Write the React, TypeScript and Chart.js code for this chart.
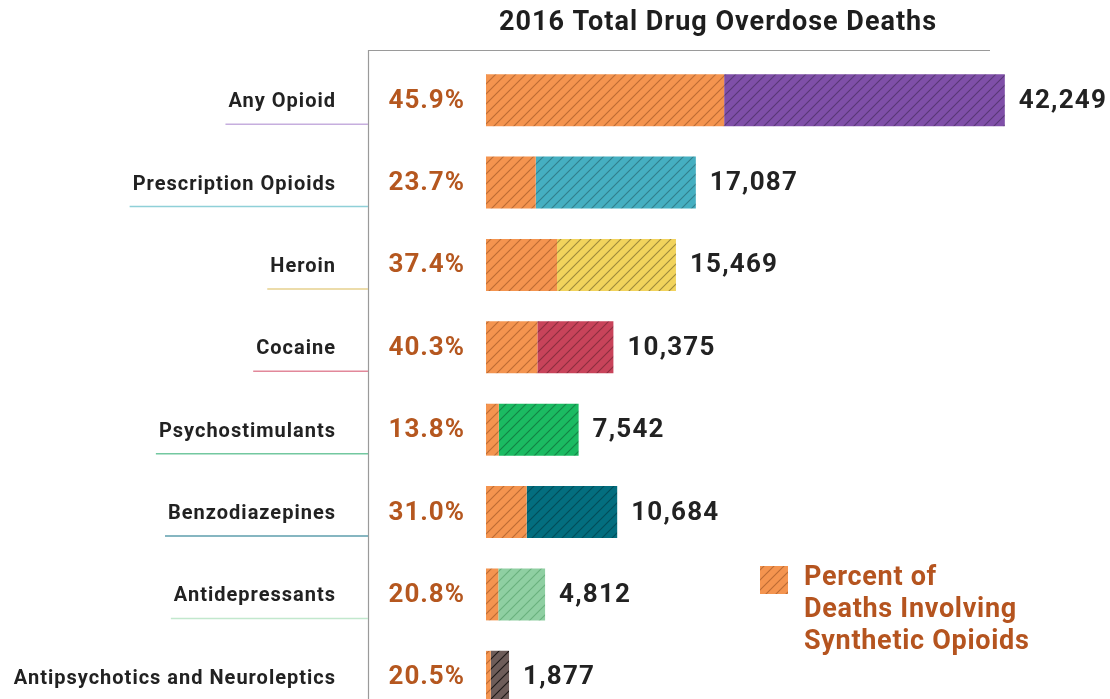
import React, { useEffect, useRef } from "react";
import { Chart, registerables } from "chart.js";

Chart.register(...registerables);

const title = "2016 Total Drug Overdose Deaths";
const categories = [
  "Any Opioid",
  "Prescription Opioids",
  "Heroin",
  "Cocaine",
  "Psychostimulants",
  "Benzodiazepines",
  "Antidepressants",
  "Antipsychotics and Neuroleptics",
];
const totals = [42249, 17087, 15469, 10375, 7542, 10684, 4812, 1877];
const synthPct = [45.9, 23.7, 37.4, 40.3, 13.8, 31.0, 20.8, 20.5];
const barColors = ["#7f4fa8", "#45afc1", "#f2d35c", "#c8435a", "#1bbb62", "#036e7f", "#8fcfa2", "#6d5c59"];
const hatchColors = [
  "rgba(0,0,0,0.3)",
  "rgba(0,0,0,0.28)",
  "rgba(0,0,0,0.35)",
  "rgba(0,0,0,0.3)",
  "rgba(0,0,0,0.3)",
  "rgba(0,0,0,0.3)",
  "rgba(60,140,80,0.45)",
  "rgba(0,0,0,0.75)",
];
const underlineColors = ["#c6aede", "#8fd0d8", "#e6d08e", "#e2889a", "#73c8a0", "#5e9ead", "#c2e8cd", "#ffffff"];
const synthColor = "#f4944f";
const legendLines = ["Percent of", "Deaths Involving", "Synthetic Opioids"];

const W = 1110;
const H = 740;
const FONT = "Roboto, 'Noto Sans', sans-serif";

function hatch(color: string, line: string): CanvasPattern | string {
  const c = document.createElement("canvas");
  const s = 10;
  c.width = s;
  c.height = s;
  const g = c.getContext("2d");
  if (!g) return color;
  g.fillStyle = color;
  g.fillRect(0, 0, s, s);
  g.strokeStyle = line;
  g.lineWidth = 1.1;
  g.beginPath();
  g.moveTo(-1, s + 1);
  g.lineTo(s + 1, -1);
  g.moveTo(-s / 2 - 1, s / 2 + 1);
  g.lineTo(s / 2 + 1, -s / 2 - 1);
  g.moveTo(s / 2 - 1, s * 1.5 + 1);
  g.lineTo(s * 1.5 + 1, s / 2 - 1);
  g.stroke();
  return g.createPattern(c, "repeat") || color;
}

const fmt = (v: number) => v.toLocaleString("en-US");

function setFont(ctx: any, size: number, spacing: number) {
  ctx.font = `bold ${size}px ${FONT}`;
  try {
    ctx.letterSpacing = `${spacing}px`;
  } catch (e) {
    /* ignore */
  }
}

export default function App() {
  const ref = useRef<HTMLCanvasElement | null>(null);

  useEffect(() => {
    const canvas = ref.current;
    if (!canvas) return;
    const synth = totals.map((t, i) => (t * synthPct[i]) / 100);
    const rest = totals.map((t, i) => t - synth[i]);
    const synthPattern = hatch(synthColor, "rgba(120,60,20,0.45)");
    const restPatterns = barColors.map((c, i) => hatch(c, hatchColors[i]));

    const overlay = {
      id: "overlay",
      beforeDatasetsDraw(chart: any) {
        const ctx = chart.ctx;
        ctx.save();
        ctx.strokeStyle = "#9a9a9a";
        ctx.lineWidth = 1.2;
        ctx.beginPath();
        ctx.moveTo(368.5, 50);
        ctx.lineTo(368.5, H);
        ctx.moveTo(368, 50.5);
        ctx.lineTo(990, 50.5);
        ctx.stroke();
        ctx.restore();
      },
      afterDraw(chart: any) {
        const ctx = chart.ctx;
        const xs = chart.scales.x;
        const ys = chart.scales.y;
        ctx.save();
        // title
        ctx.fillStyle = "#1e1e1e";
        setFont(ctx, 27, 1);
        ctx.textAlign = "center";
        ctx.textBaseline = "middle";
        ctx.fillText(title, 718, 23);

        categories.forEach((cat, i) => {
          const y = ys.getPixelForValue(i);
          // left label
          setFont(ctx, 20, 1);
          ctx.fillStyle = "#222222";
          ctx.textAlign = "right";
          ctx.textBaseline = "middle";
          ctx.fillText(cat, 336, y + 2);
          const w = ctx.measureText(cat).width;
          ctx.strokeStyle = underlineColors[i];
          ctx.lineWidth = 1.5;
          ctx.beginPath();
          ctx.moveTo(336 - w - 3, y + 24);
          ctx.lineTo(368, y + 24);
          ctx.stroke();
          // percent
          setFont(ctx, 26, 1);
          ctx.fillStyle = "#b5571f";
          ctx.textAlign = "right";
          ctx.fillText(synthPct[i].toFixed(1) + "%", 465, y + 1);
          // total
          setFont(ctx, 26, 1.2);
          ctx.fillStyle = "#222222";
          ctx.textAlign = "left";
          ctx.fillText(fmt(totals[i]), xs.getPixelForValue(totals[i]) + 14, y + 1);
        });

        // legend
        ctx.fillStyle = synthPattern as any;
        ctx.fillRect(760, 566, 28, 28);
        setFont(ctx, 27, 0.7);
        ctx.fillStyle = "#b5541f";
        ctx.textAlign = "left";
        ctx.textBaseline = "middle";
        legendLines.forEach((t, k) => ctx.fillText(t, 804, 578 + k * 32));
        ctx.restore();
      },
    };

    const chart = new Chart(canvas, {
      type: "bar",
      data: {
        labels: categories,
        datasets: [
          {
            label: "Synthetic",
            data: synth,
            backgroundColor: synthPattern as any,
            borderWidth: 0,
            barPercentage: 0.63,
            categoryPercentage: 1,
          },
          {
            label: "Other",
            data: rest,
            backgroundColor: restPatterns as any,
            borderWidth: 0,
            barPercentage: 0.63,
            categoryPercentage: 1,
          },
        ],
      },
      options: {
        indexAxis: "y",
        responsive: false,
        animation: false,
        layout: { padding: { left: 486, right: 10, top: 59, bottom: 22 } },
        plugins: { legend: { display: false }, tooltip: { enabled: false }, title: { display: false } },
        scales: {
          x: { stacked: true, min: 0, max: 50000, display: false },
          y: { stacked: true, display: false },
        },
      },
      plugins: [overlay],
    });
    return () => chart.destroy();
  }, []);

  return (
    <div style={{ position: "fixed", left: 0, top: 0, width: W, height: 699, overflow: "hidden", background: "#fff" }}>
      <canvas ref={ref} width={W} height={H} style={{ display: "block" }} />
    </div>
  );
}
